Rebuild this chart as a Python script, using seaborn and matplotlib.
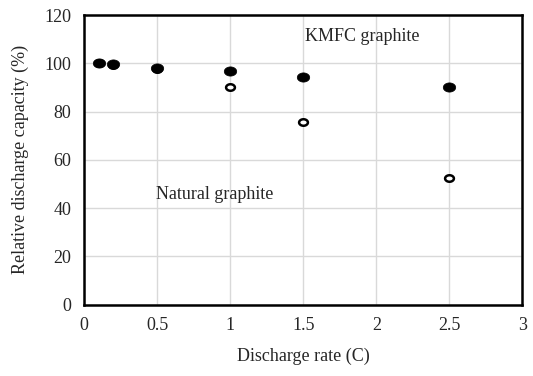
import matplotlib
matplotlib.use("Agg")
import matplotlib.pyplot as plt
import seaborn as sns
import numpy as np
from matplotlib.path import Path

# data
rate_kmfc = [0.1, 0.2, 0.5, 1.0, 1.5, 2.5]
cap_kmfc = [100.0, 99.5, 98.2, 96.7, 94.2, 90.3]
rate_nat = [0.1, 0.2, 0.5, 1.0, 1.5, 2.5]
cap_nat = [100.0, 99.3, 97.8, 90.1, 75.6, 52.6]

sns.set_style("white")
plt.rcParams['font.family'] = ['Liberation Serif', 'DejaVu Serif']

# flattened circle, like the original markers
t = np.linspace(0, 2 * np.pi, 60)
ellipse = Path(np.column_stack([np.cos(t) * 1.35, np.sin(t)]), closed=True)

fig, ax = plt.subplots(figsize=(5.33, 3.76), dpi=100)

sns.scatterplot(x=rate_nat, y=cap_nat, ax=ax, marker=ellipse, s=40,
                facecolor='white', edgecolor='black', linewidth=1.8, zorder=3)
sns.scatterplot(x=rate_kmfc, y=cap_kmfc, ax=ax, marker=ellipse, s=80,
                color='black', edgecolor='black', linewidth=0.5, zorder=4)

ax.set_xlim(0, 3)
ax.set_ylim(0, 120)
ax.set_xticks(np.arange(0, 3.01, 0.5))
ax.set_xticklabels(['0', '0.5', '1', '1.5', '2', '2.5', '3'])
ax.set_yticks(np.arange(0, 121, 20))
ax.grid(True, color='#d9d9d9', linewidth=1)
ax.tick_params(axis='both', labelsize=13, length=0)
ax.tick_params(axis='y', pad=9.5)
ax.tick_params(axis='x', pad=9)

for sp in ax.spines.values():
    sp.set_color('black')
    sp.set_linewidth(1.8)

ax.text(1.51, 111, 'KMFC graphite', fontsize=13, va='center')
ax.text(0.49, 45.5, 'Natural graphite', fontsize=13, va='center')

ax.set_xlabel('Discharge rate (C)', fontsize=13, labelpad=10)
ax.set_ylabel('Relative discharge capacity (%)', fontsize=13, labelpad=11)

fig.subplots_adjust(left=0.158, right=0.98, top=0.96, bottom=0.19)
fig.savefig('out.png', dpi=100)
